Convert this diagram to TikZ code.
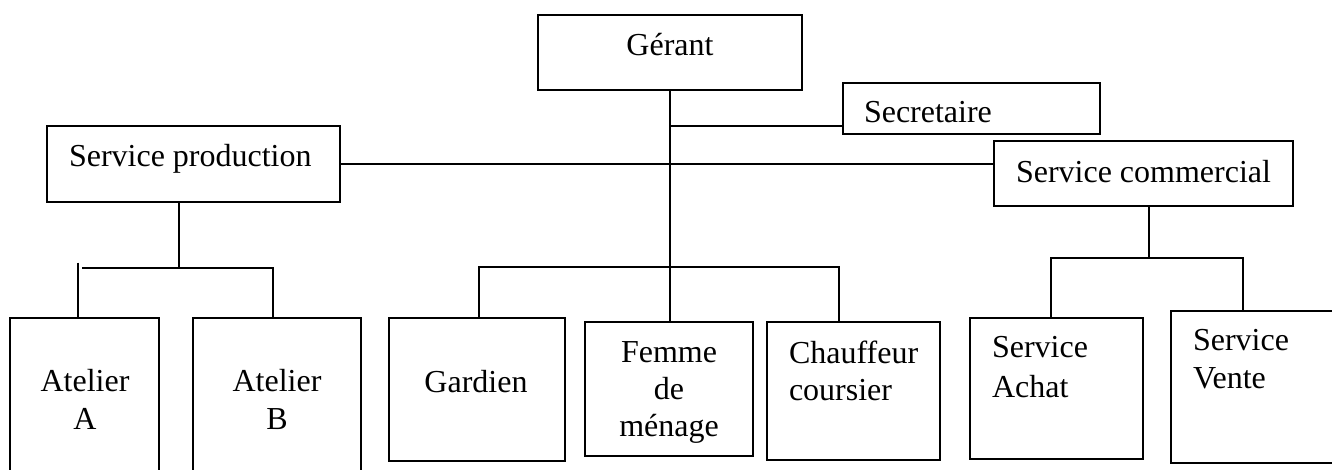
\documentclass[tikz,border=0pt]{standalone}
\usepackage{fontspec}
\setmainfont{Liberation Serif}
\begin{document}
\begin{tikzpicture}[x=0.375pt,y=-0.375pt,line width=0.75pt,
  box/.style 2 args={draw,rectangle,inner sep=0pt,minimum width=#1*0.375pt,minimum height=#2*0.375pt},
  lbl/.style={inner sep=0pt,font=\fontsize{12}{#1}\selectfont},
  lbl/.default=13.8pt]
\clip (0,0) rectangle (1332,469);

% Boxes
\node[box={264}{75}] (gerant) at (670,52.5) {};
\node[box={257}{51}] (secr) at (971.5,108.5) {};
\node[box={293}{76}] (prod) at (193.5,164) {};
\node[box={299}{65}] (comm) at (1143.5,173.5) {};
\node[box={149}{162}] (atelierA) at (84.5,399) {};
\node[box={168}{162}] (atelierB) at (277,399) {};
\node[box={176}{143}] (gardien) at (477,389.5) {};
\node[box={168}{134}] (femme) at (669,389) {};
\node[box={173}{138}] (chauffeur) at (853.5,391) {};
\node[box={173}{141}] (achat) at (1056.5,388.5) {};
\node[box={189}{152}] (vente) at (1265.5,387) {};

% Texts
\node[lbl,anchor=base] (tGerant) at (670,55) {Gérant};
\node[lbl,anchor=base west] (tSecr) at (863,122) {Secretaire};
\node[lbl,anchor=base west] (tProd) at (68,166) {Service production};
\node[lbl,anchor=base west] (tComm) at (1015,182) {Service commercial};
\node[lbl=14.3pt,align=center,anchor=north] (tAtelierA) at (85,368) {Atelier\\A};
\node[lbl=14.3pt,align=center,anchor=north] (tAtelierB) at (277,368) {Atelier\\B};
\node[lbl,anchor=base] (tGardien) at (476,392) {Gardien};
\node[lbl,align=center,anchor=north] (tFemme) at (669,341) {Femme\\de\\ménage};
\node[lbl,align=left,anchor=north west] (tChauffeur) at (788,340) {Chauffeur\\coursier};
\node[lbl=15pt,align=left,anchor=north west] (tAchat) at (991,335) {Service\\Achat};
\node[lbl=14.3pt,align=left,anchor=north west] (tVente) at (1192,328) {Service\\Vente};

% Gerant links
\coordinate (sj) at (671,126);
\draw (gerant.south) -- (gerant.south |- femme.north);
\draw (sj) -- (sj -| secr.west);
\draw (prod.east) -- (prod.east -| comm.west);

% Production links
\coordinate (pj) at (179,268);
\coordinate (pa) at (78,268);
\coordinate (pb) at (273,268);
\draw (prod.south -| pj) -- (pj);
\draw ([xshift=1.5pt]pa) -- (pb) -- (pb |- atelierB.north);
\draw ([yshift=2pt]pa) -- (pa |- atelierA.north);

% Staff links
\coordinate (gl) at (479,267);
\coordinate (gr) at (839,267);
\draw (gl |- gardien.north) -- (gl) -- (gr) -- (gr |- chauffeur.north);

% Commercial links
\coordinate (cj) at (1149,258);
\coordinate (cl) at (1051,258);
\coordinate (cr) at (1243,258);
\draw (comm.south -| cj) -- (cj);
\draw (cl |- achat.north) -- (cl) -- (cr) -- (cr |- vente.north);
\end{tikzpicture}
\end{document}
